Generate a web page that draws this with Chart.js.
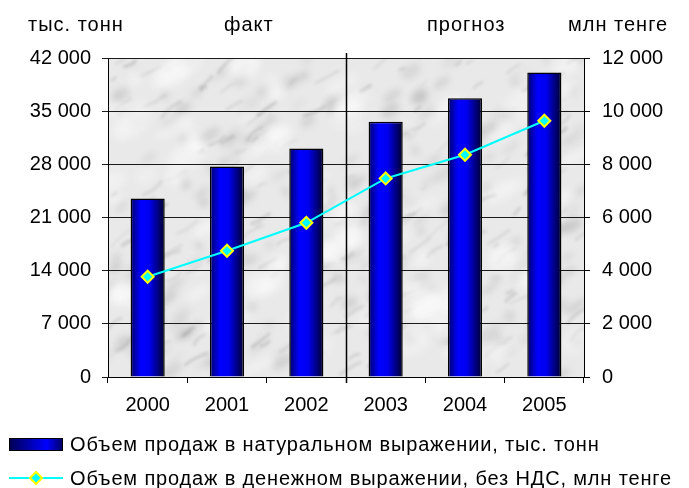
<!DOCTYPE html>
<html>
<head>
<meta charset="utf-8">
<script src="https://cdn.jsdelivr.net/npm/chart.js@4"></script>
<style>
  html, body { margin: 0; padding: 0; background: #fff; }
  #wrap { width: 689px; height: 488px; }
</style>
</head>
<body>
<div id="wrap"><canvas id="sales" width="689" height="488"></canvas></div>
<script>
let years = ['2000', '2001', '2002', '2003', '2004', '2005'];
let tonnesArr = [23500, 27700, 30100, 33600, 36700, 40100];
let tengeArr = [3770, 4750, 5800, 7470, 8360, 9640];
let leftTicks = [0, 7000, 14000, 21000, 28000, 35000, 42000];
let rightTicks = [0, 2000, 4000, 6000, 8000, 10000, 12000];
let labelTonnes = 'Объем продаж в натуральном выражении, тыс. тонн';
let labelTenge = 'Объем продаж в денежном выражении, без НДС, млн тенге';

const FONT = 'Liberation Sans, Arial, sans-serif';
Chart.defaults.font.family = FONT;
Chart.defaults.font.size = 20;
Chart.defaults.color = '#000';

function fmt(v) {
    return String(v).replace(/\B(?=(\d{3})+(?!\d))/g, ' ');
}

// grey "marble" texture for the plot area, deterministic
function marble(w, h) {
    const c = document.createElement('canvas');
    c.width = w; c.height = h;
    const g = c.getContext('2d');
    g.fillStyle = '#e9e9e9';
    g.fillRect(0, 0, w, h);
    let s = 4242;
    const rnd = () => { s = (s * 16807) % 2147483647; return s / 2147483647; };
    g.filter = 'blur(3px)';
    for (let i = 0; i < 220; i++) {
        g.fillStyle = 'rgba(150,150,150,' + (0.1 + rnd() * 0.2) + ')';
        g.beginPath();
        g.ellipse(rnd() * w, rnd() * h, 3 + rnd() * 10, 2 + rnd() * 5, -0.6, 0, Math.PI * 2);
        g.fill();
    }
    g.filter = 'blur(1.5px)';
    for (let i = 0; i < 180; i++) {
        const x = rnd() * w, y = rnd() * h, len = 6 + rnd() * 22, a = 0.4 + rnd() * 0.4;
        g.strokeStyle = 'rgba(120,120,120,' + (0.1 + rnd() * 0.25) + ')';
        g.lineWidth = 1 + rnd() * 2;
        g.beginPath();
        g.moveTo(x, y);
        g.quadraticCurveTo(x + len * 0.5 * Math.cos(a) + (rnd() - 0.5) * 8, y - len * 0.5 * Math.sin(a) + (rnd() - 0.5) * 8,
            x + len * Math.cos(a), y - len * Math.sin(a));
        g.stroke();
    }
    g.filter = 'blur(4px)';
    for (let i = 0; i < 90; i++) {
        g.fillStyle = 'rgba(252,252,252,' + (0.3 + rnd() * 0.4) + ')';
        g.beginPath();
        g.ellipse(rnd() * w, rnd() * h, 6 + rnd() * 16, 4 + rnd() * 9, -0.5, 0, Math.PI * 2);
        g.fill();
    }
    return c;
}

let bgCache = null;
const decor = {
    id: 'decor',
    beforeDraw(chart) {
        const {ctx, chartArea: a} = chart;
        const w = Math.round(a.right - a.left), h = Math.round(a.bottom - a.top);
        if (w < 1 || h < 1) return;
        if (!bgCache || bgCache.width !== w || bgCache.height !== h) bgCache = marble(w, h);
        ctx.drawImage(bgCache, a.left, a.top);
    },
    beforeDatasetsDraw(chart) {
        const {ctx, chartArea: a, scales: {x}} = chart;
        const sx = Math.round((x.getPixelForValue(2) + x.getPixelForValue(3)) / 2) + 0.5;
        ctx.save();
        ctx.strokeStyle = '#000';
        ctx.lineWidth = 1.5;
        ctx.beginPath();
        ctx.moveTo(sx, a.top - 5);
        ctx.lineTo(sx, a.bottom + 6);
        ctx.stroke();
        ctx.restore();
    },
    afterDraw(chart) {
        const ctx = chart.ctx;
        ctx.save();
        ctx.fillStyle = '#000';
        ctx.font = '20px ' + FONT;
        ctx.letterSpacing = '1px';
        ctx.textBaseline = 'middle';
        ctx.textAlign = 'left';
        ctx.fillText('тыс. тонн', 28, 25);
        ctx.fillText('факт', 224, 25);
        ctx.fillText('прогноз', 427, 25);
        ctx.fillText('млн тенге', 568, 25);

        // legend
        ctx.letterSpacing = '0.85px';
        const g = ctx.createLinearGradient(9, 0, 63, 0);
        g.addColorStop(0, '#000050');
        g.addColorStop(0.7, '#0000ff');
        g.addColorStop(1, '#000060');
        ctx.fillStyle = g;
        ctx.fillRect(9, 438, 54, 13);
        ctx.strokeStyle = '#000';
        ctx.lineWidth = 1;
        ctx.strokeRect(9.5, 438.5, 53, 12);
        ctx.fillStyle = '#000';
        ctx.fillText(labelTonnes, 70, 445);

        ctx.strokeStyle = '#00ffff';
        ctx.lineWidth = 2;
        ctx.beginPath();
        ctx.moveTo(9, 478);
        ctx.lineTo(63, 478);
        ctx.stroke();
        ctx.beginPath();
        ctx.moveTo(36, 472); ctx.lineTo(42, 478); ctx.lineTo(36, 484); ctx.lineTo(30, 478); ctx.closePath();
        ctx.fillStyle = '#00ffff';
        ctx.fill();
        ctx.strokeStyle = '#ffff00';
        ctx.stroke();
        ctx.fillStyle = '#000';
        ctx.fillText(labelTenge, 70, 479);
        ctx.restore();
    }
};

function barFill(c) {
    const chart = c.chart, xs = chart.scales.x;
    if (!xs || !chart.chartArea) return '#0000ff';
    const cx = xs.getPixelForValue(c.dataIndex);
    const w = xs.width / years.length * 0.43;
    const g = chart.ctx.createLinearGradient(cx - w / 2, 0, cx + w / 2, 0);
    g.addColorStop(0, '#00006a');
    g.addColorStop(0.3, '#0000ff');
    g.addColorStop(0.55, '#0000f0');
    g.addColorStop(1, '#00002c');
    return g;
}

var el = document.getElementById('sales').getContext('2d');
var salesChart = new Chart(el, {
    type: 'bar',
    data: {
        labels: years,
        datasets: [{
            type: 'line',
            label: labelTenge,
            data: tengeArr,
            yAxisID: 'y1',
            order: 0,
            borderColor: '#00ffff',
            borderWidth: 2,
            tension: 0,
            pointStyle: 'rectRot',
            pointRadius: 6,
            pointBackgroundColor: '#00ffff',
            pointBorderColor: '#ffff00',
            pointBorderWidth: 2
        },
        {
            label: labelTonnes,
            data: tonnesArr,
            yAxisID: 'y',
            order: 1,
            backgroundColor: barFill,
            borderColor: '#000',
            borderWidth: 1.5,
            barPercentage: 0.43,
            categoryPercentage: 1
        }]
    },
    options: {
        responsive: false,
        animation: false,
        devicePixelRatio: 1,
        layout: { padding: { top: 58, bottom: 71, left: 0, right: 0 } },
        scales: {
            x: {
                offset: true,
                grid: { offset: true, drawOnChartArea: false, tickLength: 6, color: '#000' },
                border: { color: '#000', width: 1 },
                ticks: { padding: 10, maxRotation: 0 },
                afterFit(s) { s.height = 40; }
            },
            y: {
                position: 'left',
                min: 0, max: 42000,
                afterBuildTicks(s) { s.ticks = leftTicks.map(v => ({value: v})); },
                ticks: { padding: 11, callback: v => fmt(v) },
                grid: { color: '#1a1a1a', tickLength: 6 },
                border: { color: '#000', width: 1 },
                afterFit(s) { s.width = 108; }
            },
            y1: {
                position: 'right',
                min: 0, max: 12000,
                afterBuildTicks(s) { s.ticks = rightTicks.map(v => ({value: v})); },
                ticks: { padding: 12, callback: v => fmt(v) },
                grid: { drawOnChartArea: false, color: '#000', tickLength: 6 },
                border: { color: '#000', width: 1 },
                afterFit(s) { s.width = 105; }
            }
        },
        plugins: {
            legend: { display: false },
            tooltip: { enabled: false }
        }
    },
    plugins: [decor]
});
</script>
</body>
</html>
